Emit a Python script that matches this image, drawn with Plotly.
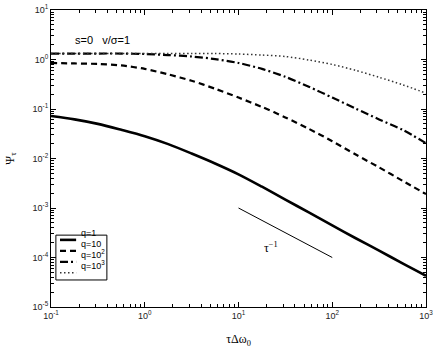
import plotly.graph_objects as go

# tau * delta omega_0 (quarter decades)
tau = [0.1, 0.178, 0.316, 0.562, 1, 1.78, 3.16, 5.62, 10, 17.8, 31.6, 56.2,
       100, 178, 316, 562, 1000]

psi_q1 = [0.0724, 0.0617, 0.0501, 0.0380, 0.0282, 0.0195, 0.0126, 0.00794,
          0.00479, 0.00269, 0.00148, 0.000813, 0.000447, 0.000245, 0.000138,
          7.59e-5, 4.27e-5]
psi_q10 = [0.851, 0.832, 0.813, 0.759, 0.646, 0.501, 0.372, 0.257, 0.170,
           0.110, 0.0676, 0.0398, 0.0224, 0.0120, 0.00661, 0.00355, 0.00191]
psi_q100 = [1.32, 1.32, 1.32, 1.32, 1.29, 1.23, 1.15, 1.02, 0.851, 0.646,
            0.447, 0.282, 0.170, 0.102, 0.0617, 0.0380, 0.0204]
psi_q1000 = [1.32, 1.32, 1.32, 1.32, 1.32, 1.32, 1.32, 1.32, 1.29, 1.23,
             1.15, 0.977, 0.794, 0.603, 0.437, 0.309, 0.209]

# tau^-1 guide line
guide_x = [10, 100]
guide_y = [1e-3, 1e-4]

series = [
    ("q=1", psi_q1, dict(color="black", width=2.6, dash="solid")),
    ("q=10", psi_q10, dict(color="black", width=2.2, dash="6px,4px")),
    ("q=10<sup>2</sup>", psi_q100, dict(color="black", width=2.2, dash="8px,3px,2px,3px")),
    ("q=10<sup>3</sup>", psi_q1000, dict(color="#333", width=1.5, dash="1.5px,2.5px")),
]

fig = go.Figure()
for name, ys, line in series:
    fig.add_trace(go.Scatter(x=tau, y=ys, mode="lines", name=name,
                             line=dict(shape="spline", smoothing=0.8, **line),
                             showlegend=False))

fig.add_trace(go.Scatter(x=guide_x, y=guide_y, mode="lines",
                         line=dict(color="black", width=1), showlegend=False))

fig.add_annotation(x=1.35, y=-3.8, xref="x", yref="y", text="τ<sup>−1</sup>",
                   showarrow=False,
                   font=dict(family="Liberation Serif", size=12, color="black"))

fig.add_annotation(x=0.059, y=0.926, xref="paper", yref="paper", xanchor="left",
                   text="s=0   v/σ=1", showarrow=False,
                   font=dict(family="Liberation Sans", size=11, color="black"))

# hand-drawn legend box
fig.add_shape(type="rect", xref="paper", yref="paper", x0=0.013, x1=0.149,
              y0=0.091, y1=0.242, line=dict(color="black", width=1),
              fillcolor="white")
leg_y = [0.226, 0.189, 0.152, 0.115]
for (name, _, line), ly in zip(series, leg_y):
    fig.add_shape(type="line", xref="paper", yref="paper", x0=0.024, x1=0.067,
                  y0=ly, y1=ly, line=line)
    fig.add_annotation(x=0.075, y=ly, xref="paper", yref="paper", xanchor="left",
                       text=name, showarrow=False,
                       font=dict(family="Liberation Sans", size=9, color="black"))


def minor_vals(lo, hi):
    vals = []
    for e in range(lo, hi):
        for m in range(2, 10):
            vals.append(m * 10.0 ** e)
    return vals


axis_common = dict(type="log", showline=True, linecolor="black", linewidth=1,
                   mirror="allticks", ticks="inside", ticklen=5, tickcolor="black",
                   showgrid=False, zeroline=False, automargin=False,
                   tickfont=dict(family="Liberation Sans", size=9, color="#222"))

fig.update_xaxes(range=[-1, 3], tickvals=[0.1, 1, 10, 100, 1000],
                 ticktext=["10<sup>-1</sup>", "10<sup>0</sup>", "10<sup>1</sup>",
                           "10<sup>2</sup>", "10<sup>3</sup>"],
                 minor=dict(tickvals=minor_vals(-1, 3), ticks="inside", ticklen=3,
                            tickcolor="black", showgrid=False),
                 title=dict(text="τΔω<sub>0</sub>",
                            font=dict(family="Liberation Serif", size=12, color="black")),
                 **axis_common)
fig.update_yaxes(range=[-5, 1], tickvals=[1e-5, 1e-4, 1e-3, 1e-2, 1e-1, 1, 10],
                 ticktext=["10<sup>-5</sup>", "10<sup>-4</sup>", "10<sup>-3</sup>",
                           "10<sup>-2</sup>", "10<sup>-1</sup>", "10<sup>0</sup>",
                           "10<sup>1</sup>"],
                 minor=dict(tickvals=minor_vals(-5, 1), ticks="inside", ticklen=3,
                            tickcolor="black", showgrid=False),
                 title=dict(text="Ψ<sub>τ</sub>",
                            font=dict(family="Liberation Serif", size=12, color="black")),
                 **axis_common)

fig.update_layout(width=436, height=348, margin=dict(l=51, r=10, t=10, b=41),
                  paper_bgcolor="white", plot_bgcolor="white")

# drop the page's default body margin so the figure sits at the window corner
fig.write_html("out.html", config={"displayModeBar": False},
               post_script="document.body.style.margin='0';")
